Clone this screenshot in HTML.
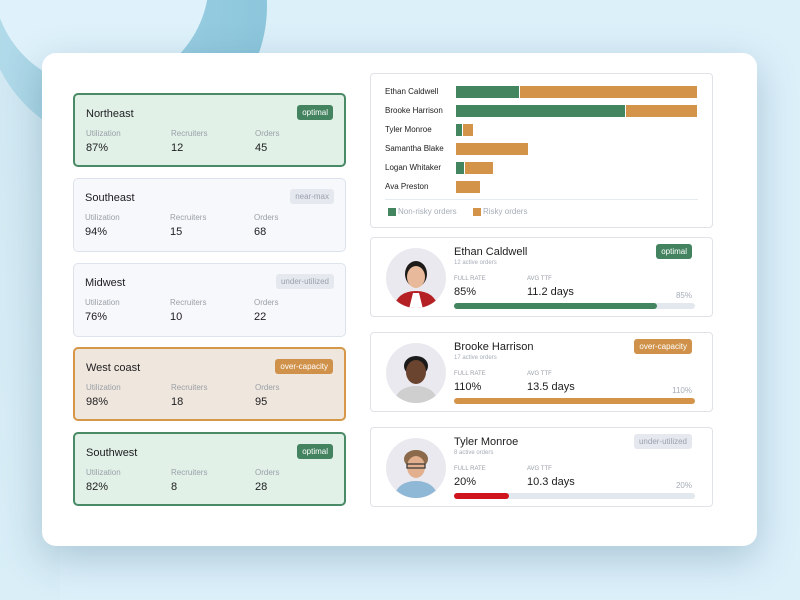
<!DOCTYPE html>
<html><head><meta charset="utf-8"><style>
*{margin:0;padding:0;box-sizing:border-box}
body{width:800px;height:600px;overflow:hidden;background:#dcf0fa;font-family:"Liberation Sans",sans-serif;position:relative;color:#1d1d1f}
.abs{position:absolute}
.card{position:absolute;left:42px;top:53px;width:715px;height:493px;background:#fff;border-radius:14px;box-shadow:0 12px 40px rgba(40,90,120,.28)}
.reg{position:absolute;left:73px;width:273px;height:74px;border-radius:5px;border:1.5px solid #dde3ec;background:#f7f8fb}
.reg.g{background:#e1f1e8;border:2px solid #4a8a66}
.reg.o{background:#efe6dd;border:2px solid #d69848}
.reg h3{position:absolute;left:11px;top:13px;font-size:11px;font-weight:normal}
.badge{position:absolute;right:11px;top:10px;font-size:8px;padding:3px 5px;border-radius:3px;color:#fff}
.bg{background:#43835f}.bo{background:#d0924a}.bgr{background:#e5e8ef;color:#9aa1ad}
.lab{position:absolute;top:34px;font-size:8px;color:#9aa0a8}
.val{position:absolute;top:47px;font-size:11px}
.rc{position:absolute;left:370px;width:343px;border:1px solid #dfe2e7;border-radius:4px;background:#fff}
.nm{position:absolute;left:14px;font-size:8px}
.bar{position:absolute;height:12px}
.gr{background:#43855f}.or{background:#d3944a}
</style></head><body>
<svg class="abs" style="left:0;top:0" width="800" height="600">
<defs><linearGradient id="rg" x1="0" y1="0" x2="1" y2="0"><stop offset="0" stop-color="#b3dbea"/><stop offset="1" stop-color="#8cc6dc"/></linearGradient>
<linearGradient id="lg" x1="0" y1="0" x2="0" y2="1"><stop offset="0" stop-color="#d2e9f3"/><stop offset="1" stop-color="#d9eef7"/></linearGradient></defs>
<rect x="0" y="60" width="60" height="540" fill="url(#lg)"/>
<circle cx="126" cy="6" r="141" fill="url(#rg)"/>
<circle cx="101" cy="-20" r="108" fill="#dff2fb"/>
</svg>
<div class="card"></div>

<div class="reg g" style="top:93px"><h3>Northeast</h3><span class="badge bg">optimal</span>
<span class="lab" style="left:11px">Utilization</span><span class="lab" style="left:96px">Recruiters</span><span class="lab" style="left:180px">Orders</span>
<span class="val" style="left:11px">87%</span><span class="val" style="left:96px">12</span><span class="val" style="left:180px">45</span></div>
<div class="reg" style="top:178px"><h3>Southeast</h3><span class="badge bgr">near-max</span>
<span class="lab" style="left:11px">Utilization</span><span class="lab" style="left:96px">Recruiters</span><span class="lab" style="left:180px">Orders</span>
<span class="val" style="left:11px">94%</span><span class="val" style="left:96px">15</span><span class="val" style="left:180px">68</span></div>
<div class="reg" style="top:263px"><h3>Midwest</h3><span class="badge bgr">under-utilized</span>
<span class="lab" style="left:11px">Utilization</span><span class="lab" style="left:96px">Recruiters</span><span class="lab" style="left:180px">Orders</span>
<span class="val" style="left:11px">76%</span><span class="val" style="left:96px">10</span><span class="val" style="left:180px">22</span></div>
<div class="reg o" style="top:347px"><h3>West coast</h3><span class="badge bo">over-capacity</span>
<span class="lab" style="left:11px">Utilization</span><span class="lab" style="left:96px">Recruiters</span><span class="lab" style="left:180px">Orders</span>
<span class="val" style="left:11px">98%</span><span class="val" style="left:96px">18</span><span class="val" style="left:180px">95</span></div>
<div class="reg g" style="top:432px"><h3>Southwest</h3><span class="badge bg">optimal</span>
<span class="lab" style="left:11px">Utilization</span><span class="lab" style="left:96px">Recruiters</span><span class="lab" style="left:180px">Orders</span>
<span class="val" style="left:11px">82%</span><span class="val" style="left:96px">8</span><span class="val" style="left:180px">28</span></div>

<div class="rc" style="top:73px;height:155px">
<span class="nm" style="top:13px">Ethan Caldwell</span>
<span class="nm" style="top:32px">Brooke Harrison</span>
<span class="nm" style="top:51px">Tyler Monroe</span>
<span class="nm" style="top:70px">Samantha Blake</span>
<span class="nm" style="top:89px">Logan Whitaker</span>
<span class="nm" style="top:108px">Ava Preston</span>
<div class="bar gr" style="left:85px;top:12px;width:63px"></div><div class="bar or" style="left:149px;top:12px;width:177px"></div>
<div class="bar gr" style="left:85px;top:31px;width:169px"></div><div class="bar or" style="left:255px;top:31px;width:71px"></div>
<div class="bar gr" style="left:85px;top:50px;width:6px"></div><div class="bar or" style="left:92px;top:50px;width:10px"></div>
<div class="bar or" style="left:85px;top:69px;width:72px"></div>
<div class="bar gr" style="left:85px;top:88px;width:8px"></div><div class="bar or" style="left:94px;top:88px;width:28px"></div>
<div class="bar or" style="left:85px;top:107px;width:24px"></div>
<div class="abs" style="left:14px;top:125px;width:313px;height:1px;background:#e4ebf2"></div>
<div class="abs gr" style="left:17px;top:134px;width:8px;height:8px"></div><span class="abs" style="left:27px;top:133px;font-size:8px;color:#a6adb8">Non-risky orders</span>
<div class="abs or" style="left:102px;top:134px;width:8px;height:8px"></div><span class="abs" style="left:112px;top:133px;font-size:8px;color:#a6adb8">Risky orders</span>
</div>

<div class="rc" style="top:237px;height:80px">
<svg class="abs" style="left:14px;top:9px" width="62" height="62"><defs><clipPath id="c1"><circle cx="31" cy="31" r="30"/></clipPath></defs><g clip-path="url(#c1)"><rect width="62" height="62" fill="#e9e9ef"/><path d="M8 62 Q12 44 31 44 Q50 44 54 62Z" fill="#b52025"/><path d="M24 62 L28 46 L34 46 L38 62Z" fill="#fff"/><ellipse cx="31" cy="27" rx="11" ry="13" fill="#1e1a18"/><ellipse cx="31" cy="30" rx="9" ry="11" fill="#e8b99a"/></g></svg>
<span class="abs" style="left:83px;top:8px;font-size:11px">Ethan Caldwell</span>
<span class="abs" style="left:83px;top:22px;font-size:6px;color:#a6adb8">12 active orders</span>
<span class="abs" style="left:83px;top:38px;font-size:6px;color:#9aa0a8">FULL RATE</span>
<span class="abs" style="left:156px;top:38px;font-size:6px;color:#9aa0a8">AVG TTF</span>
<span class="abs" style="left:83px;top:48px;font-size:11px">85%</span>
<span class="abs" style="left:156px;top:48px;font-size:11px">11.2 days</span>
<span class="badge bg" style="right:20px;top:6px">optimal</span>
<span class="abs" style="right:20px;top:53px;font-size:8px;color:#a6adb8">85%</span>
<div class="abs" style="left:83px;top:65px;width:241px;height:6px;border-radius:3px;background:#e3e8ef"><div style="width:203px;height:6px;border-radius:3px;background:#43855f"></div></div>
</div>

<div class="rc" style="top:332px;height:80px">
<svg class="abs" style="left:14px;top:9px" width="62" height="62"><defs><clipPath id="c2"><circle cx="31" cy="31" r="30"/></clipPath></defs><g clip-path="url(#c2)"><rect width="62" height="62" fill="#e9e9ef"/><path d="M8 62 Q12 44 31 44 Q50 44 54 62Z" fill="#cfcfcf"/><ellipse cx="31" cy="24" rx="12" ry="10" fill="#1a1a1a"/><ellipse cx="31" cy="30" rx="10" ry="12" fill="#6b4430"/></g></svg>
<span class="abs" style="left:83px;top:8px;font-size:11px">Brooke Harrison</span>
<span class="abs" style="left:83px;top:22px;font-size:6px;color:#a6adb8">17 active orders</span>
<span class="abs" style="left:83px;top:38px;font-size:6px;color:#9aa0a8">FULL RATE</span>
<span class="abs" style="left:156px;top:38px;font-size:6px;color:#9aa0a8">AVG TTF</span>
<span class="abs" style="left:83px;top:48px;font-size:11px">110%</span>
<span class="abs" style="left:156px;top:48px;font-size:11px">13.5 days</span>
<span class="badge bo" style="right:20px;top:6px">over-capacity</span>
<span class="abs" style="right:20px;top:53px;font-size:8px;color:#a6adb8">110%</span>
<div class="abs" style="left:83px;top:65px;width:241px;height:6px;border-radius:3px;background:#d3944a"></div>
</div>

<div class="rc" style="top:427px;height:80px">
<svg class="abs" style="left:14px;top:9px" width="62" height="62"><defs><clipPath id="c3"><circle cx="31" cy="31" r="30"/></clipPath></defs><g clip-path="url(#c3)"><rect width="62" height="62" fill="#e9e9ef"/><path d="M8 62 Q12 44 31 44 Q50 44 54 62Z" fill="#8fb7d6"/><ellipse cx="31" cy="22" rx="12" ry="9" fill="#8a6a4a"/><ellipse cx="31" cy="30" rx="9" ry="11" fill="#e2b08e"/><rect x="22" y="27" width="18" height="4" fill="none" stroke="#333" stroke-width="1.2"/></g></svg>
<span class="abs" style="left:83px;top:8px;font-size:11px">Tyler Monroe</span>
<span class="abs" style="left:83px;top:22px;font-size:6px;color:#a6adb8">8 active orders</span>
<span class="abs" style="left:83px;top:38px;font-size:6px;color:#9aa0a8">FULL RATE</span>
<span class="abs" style="left:156px;top:38px;font-size:6px;color:#9aa0a8">AVG TTF</span>
<span class="abs" style="left:83px;top:48px;font-size:11px">20%</span>
<span class="abs" style="left:156px;top:48px;font-size:11px">10.3 days</span>
<span class="badge bgr" style="right:20px;top:6px">under-utilized</span>
<span class="abs" style="right:20px;top:53px;font-size:8px;color:#a6adb8">20%</span>
<div class="abs" style="left:83px;top:65px;width:241px;height:6px;border-radius:3px;background:#e3e8ef"><div style="width:55px;height:6px;border-radius:3px;background:#d0141e"></div></div>
</div>
</body></html>
